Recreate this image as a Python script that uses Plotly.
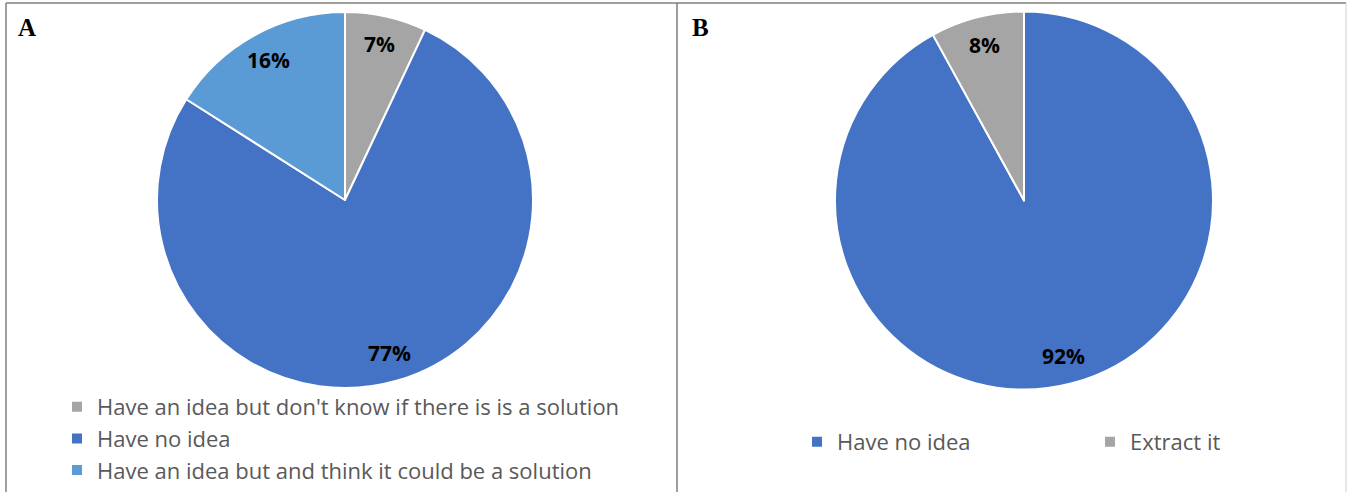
import math
import plotly.graph_objects as go

W, H = 1351, 492

labels_a = ["Have an idea but don't know if there is is a solution",
            "Have no idea",
            "Have an idea but and think it could be a solution"]
values_a = [7, 77, 16]
colors_a = ["#A5A5A5", "#4472C4", "#5B9BD5"]

labels_b = ["Have no idea ", "Extract it"]
values_b = [92, 8]
colors_b = ["#4472C4", "#A5A5A5"]

def px(x):
    return x / W

def py(y):
    return 1 - y / H

dom_a = dict(x=[px(157), px(533)], y=[py(388), py(12)])
dom_b = dict(x=[px(835), px(1213)], y=[py(390), py(11)])

fig = go.Figure()
fig.add_trace(go.Pie(
    labels=labels_a, values=values_a, sort=False, direction="clockwise", rotation=0,
    marker=dict(colors=colors_a, line=dict(color="white", width=2)),
    textinfo="none", domain=dom_a, legend="legend", hoverinfo="label+percent",
))
fig.add_trace(go.Pie(
    labels=labels_b, values=values_b, sort=False, direction="clockwise", rotation=0,
    marker=dict(colors=colors_b, line=dict(color="white", width=2)),
    textinfo="none", domain=dom_b, legend="legend2", hoverinfo="label+percent",
))

# percentage labels placed at mid-angle of each slice, derived from the values
def pct_annotations(values, dom, frac=0.85):
    cx = (dom["x"][0] + dom["x"][1]) / 2 * W
    cy = (1 - (dom["y"][0] + dom["y"][1]) / 2) * H
    r = (dom["x"][1] - dom["x"][0]) * W / 2
    total = sum(values)
    out, cum = [], 0
    for v in values:
        mid = (cum + v / 2) / total * 2 * math.pi
        cum += v
        x = cx + frac * r * math.sin(mid)
        y = cy - frac * r * math.cos(mid)
        out.append(dict(text="<b>%d%%</b>" % round(100 * v / total), x=px(x), y=py(y),
                        xref="paper", yref="paper", showarrow=False,
                        xanchor="center", yanchor="middle",
                        font=dict(family="Open Sans", size=21, color="black")))
    return out

legend_font = dict(family="Open Sans", size=22, color="#595959")
annotations = pct_annotations(values_a, dom_a) + pct_annotations(values_b, dom_b) + [
    dict(text="<b>A</b>", x=px(16), y=py(28), xref="paper", yref="paper",
         xanchor="left", yanchor="middle", showarrow=False,
         font=dict(family="Liberation Serif", size=25, color="black")),
    dict(text="<b>B</b>", x=px(690), y=py(28), xref="paper", yref="paper",
         xanchor="left", yanchor="middle", showarrow=False,
         font=dict(family="Liberation Serif", size=25, color="black")),
]

border = dict(color="#7F7F7F", width=1.5)
fig.update_layout(
    width=W, height=H, autosize=False,
    margin=dict(l=0, r=0, t=0, b=0, autoexpand=False),
    paper_bgcolor="white",
    legend=dict(x=px(57), y=py(386), xanchor="left", yanchor="top",
                orientation="v", font=legend_font, bgcolor="rgba(0,0,0,0)",
                tracegroupgap=0),
    legend2=dict(x=px(797), y=py(421), xanchor="left", yanchor="top",
                 orientation="h", font=legend_font, bgcolor="rgba(0,0,0,0)",
                 entrywidth=248, entrywidthmode="pixels"),
    shapes=[
        dict(type="line", xref="paper", yref="paper", x0=px(6), x1=px(1346), y0=py(3), y1=py(3), line=border),
        dict(type="line", xref="paper", yref="paper", x0=px(6), x1=px(6), y0=0, y1=py(3), line=border),
        dict(type="line", xref="paper", yref="paper", x0=px(677), x1=px(677), y0=0, y1=py(3), line=border),
        dict(type="line", xref="paper", yref="paper", x0=px(1346), x1=px(1346), y0=0, y1=py(3),
             line=dict(color="#D0D0D0", width=1)),
    ],
    annotations=annotations,
)

fig.write_html(
    "out.html",
    config={"displayModeBar": False, "responsive": False},
    post_script="document.documentElement.style.margin='0';"
                "document.body.style.margin='0';"
                "document.body.style.overflow='hidden';",
)
